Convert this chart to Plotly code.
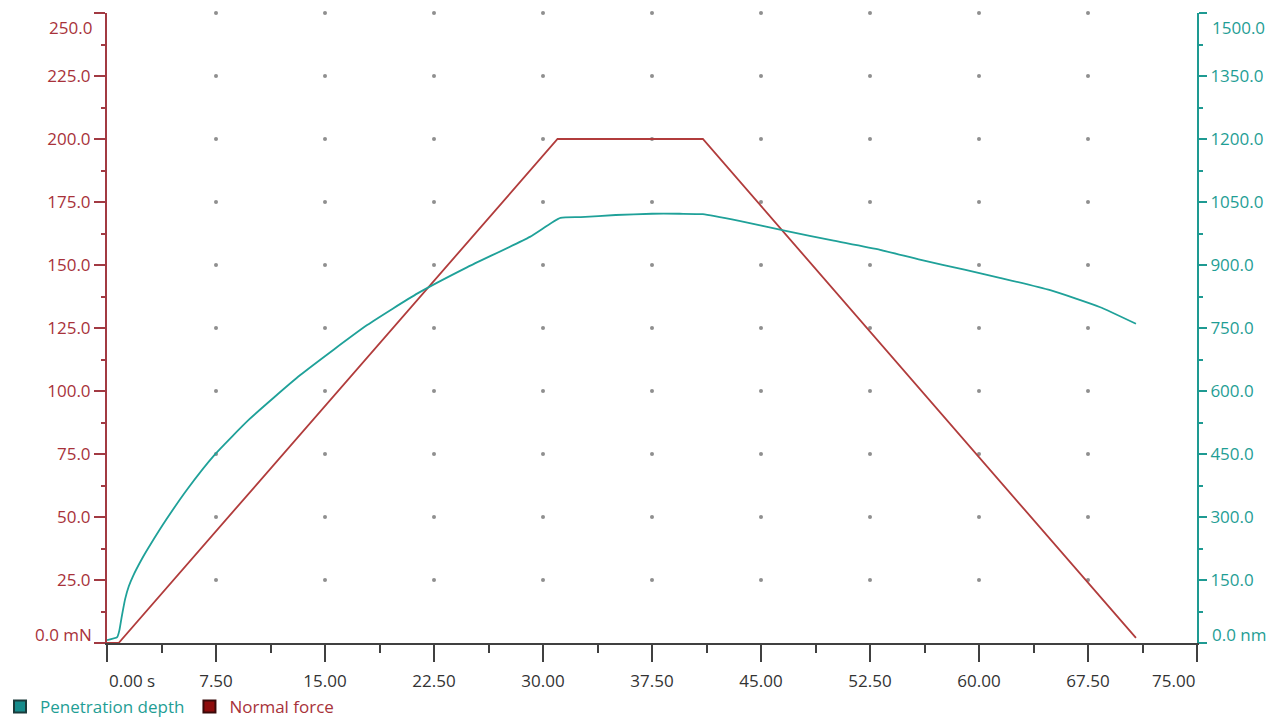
import plotly.graph_objects as go

# Indentation test: time in seconds, normal force in mN, penetration depth in nm
force_time = [0.0, 0.8, 31.0, 41.0, 70.8]
normal_force = [0.0, 0.0, 200.0, 200.0, 2.0]

depth_time = [0.0, 0.7, 0.85, 1.0, 1.25, 1.5, 1.8, 2.4, 3.0, 4.1, 5.5, 7.4, 9.8,
              13.3, 17.9, 21.4, 24.8, 29.1, 31.2, 32.6, 35.0, 37.5, 39.4, 41.0,
              43.5, 46.7, 50.0, 53.2, 56.0, 59.0, 61.5, 64.9, 68.3, 70.8]
penetration_depth = [7, 14, 30, 60, 105, 135, 160, 200, 235, 295, 365, 448, 533,
                     638, 757, 833, 895, 967, 1012, 1014, 1019, 1022, 1022, 1021,
                     1005, 981, 958, 936, 912, 889, 869, 840, 800, 760]

x_ticks = [0.0, 7.5, 15.0, 22.5, 30.0, 37.5, 45.0, 52.5, 60.0, 67.5, 75.0]
x_labels = ["", "7.50", "15.00", "22.50", "30.00", "37.50", "45.00", "52.50",
            "60.00", "67.50", ""]
force_ticks = [0, 25, 50, 75, 100, 125, 150, 175, 200, 225, 250]
force_labels = ["", "25.0", "50.0", "75.0", "100.0", "125.0", "150.0", "175.0",
                "200.0", "225.0", ""]
depth_ticks = [0, 150, 300, 450, 600, 750, 900, 1050, 1200, 1350, 1500]
depth_labels = ["", "150.0", "300.0", "450.0", "600.0", "750.0", "900.0",
                "1050.0", "1200.0", "1350.0", ""]

RED = "#b13c3c"
RED_AXIS = "#a23a42"
RED_TEXT = "#a8323a"
TEAL = "#1fa199"
TEAL_AXIS = "#1e9a92"
TEAL_TEXT = "#1f9e95"
FONT = "Open Sans"
FS = 17

fig = go.Figure()

# dotted grid: one dot at every major x / left-y intersection
gx, gy = [], []
for yv in force_ticks[1:]:
    for xv in x_ticks[1:-1]:
        gx.append(xv)
        gy.append(yv)
fig.add_trace(go.Scatter(x=gx, y=gy, mode="markers", showlegend=False,
                         hoverinfo="skip",
                         marker=dict(symbol="circle", size=4, color="#8f8f8f"),
                         cliponaxis=False))

fig.add_trace(go.Scatter(x=depth_time, y=penetration_depth, yaxis="y2",
                         mode="lines",
                         line=dict(color=TEAL, width=1.8, shape="spline",
                                   smoothing=0.5),
                         showlegend=False, name="Penetration depth"))
fig.add_trace(go.Scatter(x=force_time, y=normal_force, mode="lines",
                         line=dict(color=RED, width=1.8),
                         showlegend=False, name="Normal force"))

# legend entries drawn as coloured squares
fig.add_trace(go.Scatter(x=[None], y=[None], mode="markers",
                         name=f"<span style='color:{TEAL_TEXT}'>Penetration depth</span>",
                         marker=dict(symbol="square", size=12, color="#168c8c",
                                     line=dict(color="#1b3b3b", width=1))))
fig.add_trace(go.Scatter(x=[None], y=[None], mode="markers",
                         name=f"<span style='color:{RED_TEXT}'>Normal force</span>",
                         marker=dict(symbol="square", size=12, color="#8e0c0c",
                                     line=dict(color="#3a0a0a", width=1))))

fig.update_layout(
    width=1285, height=725,
    margin=dict(l=107, r=88, t=13, b=82, autoexpand=False),
    paper_bgcolor="white", plot_bgcolor="white",
    font=dict(family=FONT, size=FS, color="#333333"),
    showlegend=True,
    legend=dict(orientation="h", xref="container", yref="container",
                x=-0.006, y=-0.004, xanchor="left", yanchor="bottom",
                font=dict(family=FONT, size=FS), itemsizing="constant",
                itemwidth=30, tracegroupgap=0, bgcolor="rgba(0,0,0,0)"),
    xaxis=dict(range=[0, 75], tickvals=x_ticks, ticktext=x_labels,
               showgrid=False, zeroline=False, showline=True,
               linecolor="#404040", linewidth=2, ticks="outside",
               ticklen=17, tickwidth=2, tickcolor="#404040",
               ticklabelstandoff=5,
               tickfont=dict(color="#333333", size=FS),
               minor=dict(dtick=3.75, tick0=0, ticks="outside", ticklen=8,
                          tickwidth=2, tickcolor="#404040"),
               fixedrange=True),
    yaxis=dict(range=[0, 250], tickvals=force_ticks, ticktext=force_labels,
               showgrid=False, zeroline=False, showline=True,
               linecolor=RED_AXIS, linewidth=2, ticks="outside", ticklen=11,
               tickwidth=2, tickcolor=RED_AXIS,
               tickfont=dict(color=RED_TEXT, size=FS),
               minor=dict(dtick=12.5, tick0=0, ticks="outside", ticklen=4,
                          tickwidth=1.5, tickcolor=RED_AXIS),
               fixedrange=True),
    yaxis2=dict(range=[0, 1500], overlaying="y", side="right",
                tickvals=depth_ticks, ticktext=depth_labels,
                showgrid=False, zeroline=False, showline=True,
                linecolor=TEAL_AXIS, linewidth=2, ticks="outside", ticklen=8,
                tickwidth=2, tickcolor=TEAL_AXIS,
                tickfont=dict(color=TEAL_TEXT, size=FS),
                minor=dict(dtick=75, tick0=0, ticks="outside", ticklen=4,
                           tickwidth=1.5, tickcolor=TEAL_AXIS),
                fixedrange=True),
)

# end labels sit inside the axis span
ann = [
    dict(x=0, y=0, xref="x", yref="paper", text="0.00 s", showarrow=False,
         xanchor="left", yanchor="middle", yshift=-37,
         font=dict(color="#333333", size=FS)),
    dict(x=75, y=0, xref="x", yref="paper", text="75.00", showarrow=False,
         xanchor="right", yanchor="middle", yshift=-37,
         font=dict(color="#333333", size=FS)),
    dict(x=0, y=250, xref="paper", yref="y", text="250.0", showarrow=False,
         xanchor="right", yanchor="middle", xshift=-13, yshift=-14,
         font=dict(color=RED_TEXT, size=FS)),
    dict(x=0, y=0, xref="paper", yref="y", text="0.0 mN", showarrow=False,
         xanchor="right", yanchor="middle", xshift=-13, yshift=9,
         font=dict(color=RED_TEXT, size=FS)),
    dict(x=1, y=1500, xref="paper", yref="y2", text="1500.0", showarrow=False,
         xanchor="left", yanchor="middle", xshift=13, yshift=-14,
         font=dict(color=TEAL_TEXT, size=FS)),
    dict(x=1, y=0, xref="paper", yref="y2", text="0.0 nm", showarrow=False,
         xanchor="left", yanchor="middle", xshift=13, yshift=9,
         font=dict(color=TEAL_TEXT, size=FS)),
]
fig.update_layout(annotations=ann)

fig.write_html("out.html")
